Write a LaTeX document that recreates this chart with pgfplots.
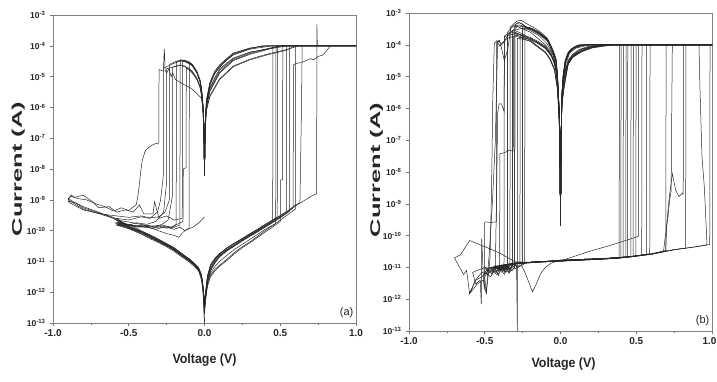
\documentclass[border=0pt]{standalone}
\usepackage{fontspec}
\setmainfont{Liberation Sans}
\usepackage{graphicx}
\usepackage{pgfplots}
\pgfplotsset{compat=1.18}
\tikzset{ln/.style={line width=0.5pt, black!85}}
\pgfplotsset{every axis/.append style={
    scale only axis,
    xmin=-1, xmax=1, ymin=1e-13, ymax=1e-3,
    axis line style={draw=black!50, line width=0.8pt},
    tick style={draw=black!55, line width=0.6pt},
    tick align=outside, major tick length=3pt, minor tick length=2pt,
    xtick pos=bottom, ytick pos=left,
    xtick={-1,-0.5,0,0.5,1},
    minor xtick={-0.75,-0.25,0.25,0.75},
    ytick={1e-13,1e-12,1e-11,1e-10,1e-9,1e-8,1e-7,1e-6,1e-5,1e-4,1e-3},
    yticklabels={10\textsuperscript{-13},10\textsuperscript{-12},10\textsuperscript{-11},10\textsuperscript{-10},10\textsuperscript{-9},10\textsuperscript{-8},10\textsuperscript{-7},10\textsuperscript{-6},10\textsuperscript{-5},10\textsuperscript{-4},10\textsuperscript{-3}},
    yminorticks=false,
    yticklabel style={font=\fontsize{8.5}{8.5}\selectfont\bfseries, text=black!85, xshift=-1pt},
    xticklabel style={font=\fontsize{10}{10}\selectfont\bfseries, text=black!85},
  }}
\begin{document}
\begin{tikzpicture}
\useasboundingbox (0pt,0pt) rectangle (717pt,381pt);
% ---------------- panel (a) ----------------
\begin{semilogyaxis}[at={(53pt,58pt)}, anchor=south west, width=303pt, height=308pt,
  xticklabels={-1.0,-0.5,0.0,0.5,1.0},
  ylabel={\scalebox{1.82}[1]{\fontsize{14}{14}\selectfont\bfseries Current (A)}},
  ylabel style={at={(axis description cs:-0.115,0.5)}, anchor=center, text=black!85},
  xlabel={\scalebox{0.92}[1]{\fontsize{13.5}{14}\selectfont\bfseries Voltage (V)}},
  xlabel style={at={(axis description cs:0.5,-0.12)}, anchor=center, text=black!85}]
\addplot[ln] coordinates {(0,3.2e-13) (0.01,1e-12) (0.02,2.5e-12) (0.04,5.6e-12) (0.07,1e-11) (0.1,1.6e-11) (0.15,2.5e-11) (0.2,3.5e-11) (0.25,5e-11) (0.3,7.1e-11) (0.35,1e-10) (0.4,1.4e-10) (0.45,2e-10) (0.452,1e-4) (1.0,1e-4) (0.4,1e-4) (0.3,8.3e-5) (0.19,5.6e-5) (0.14,3.5e-5) (0.1,2.3e-5) (0.068,1.45e-5) (0.035,6e-6) (0.013,1.7e-6) (0.005,4e-7) (0,6e-9) (-0.005,3.2e-7) (-0.01,1.1e-6) (-0.02,4e-6) (-0.03,7.6e-6) (-0.05,1.4e-5) (-0.08,2.4e-5) (-0.1,2.8e-5) (-0.13,3.3e-5) (-0.16,3.5e-5) (-0.163,1.5e-10) (-0.2,1.3e-10) (-0.25,1.2e-10) (-0.3,1.4e-10) (-0.35,1.2e-10) (-0.4,1.5e-10) (-0.45,1.4e-10) (-0.5,1.6e-10) (-0.58,1.8e-10) (-0.5,1.3e-10) (-0.45,1.05e-10) (-0.4,8e-11) (-0.35,6e-11) (-0.3,4.5e-11) (-0.25,3.4e-11) (-0.2,2.4e-11) (-0.15,1.6e-11) (-0.1,1.05e-11) (-0.07,8e-12) (-0.04,5.6e-12) (-0.02,3.2e-12) (-0.01,1.3e-12) (0,3.2e-13)};
\addplot[ln] coordinates {(0,5e-13) (0.01,1.4e-12) (0.02,3.5e-12) (0.04,8e-12) (0.07,1.3e-11) (0.1,1.8e-11) (0.15,2.8e-11) (0.2,4e-11) (0.25,5.6e-11) (0.3,8e-11) (0.35,1.1e-10) (0.4,1.6e-10) (0.45,2.2e-10) (0.48,2.8e-10) (0.482,1e-4) (1.0,1e-4) (0.5,1e-4) (0.4,7.5e-5) (0.3,5.6e-5) (0.19,3.5e-5) (0.1,1.4e-5) (0.035,3.5e-6) (0.013,1.1e-6) (0.005,3e-7) (0,6e-9) (-0.005,2e-7) (-0.01,7e-7) (-0.02,2.5e-6) (-0.03,4.5e-6) (-0.05,8e-6) (-0.08,1.3e-5) (-0.1,1.6e-5) (-0.12,1.9e-5) (-0.122,1.1e-8) (-0.14,1e-8) (-0.142,2e-10) (-0.18,1.6e-10) (-0.22,1.3e-10) (-0.28,1.5e-10) (-0.35,1.4e-10) (-0.42,1.6e-10) (-0.5,1.9e-10) (-0.58,2.2e-10) (-0.5,1.5e-10) (-0.45,1.2e-10) (-0.4,9e-11) (-0.35,7e-11) (-0.3,5.2e-11) (-0.25,3.8e-11) (-0.2,2.8e-11) (-0.15,1.8e-11) (-0.1,1.2e-11) (-0.07,9e-12) (-0.04,6.3e-12) (-0.02,3.5e-12) (-0.01,1.6e-12) (0,5e-13)};
\addplot[ln] coordinates {(0,2e-13) (0.01,7e-13) (0.02,1.6e-12) (0.04,3.2e-12) (0.07,5e-12) (0.1,7e-12) (0.15,1.1e-11) (0.2,1.8e-11) (0.25,2.8e-11) (0.3,4e-11) (0.35,6e-11) (0.4,9e-11) (0.45,1.3e-10) (0.5,2e-10) (0.502,4.4e-9) (0.515,4.4e-9) (0.517,1e-4) (1.0,1e-4) (0.6,1e-4) (0.54,7.2e-5) (0.41,5e-5) (0.3,3.5e-5) (0.19,2.1e-5) (0.1,8e-6) (0.035,2.2e-6) (0.013,8e-7) (0.005,2e-7) (0,6e-9) (-0.005,3.5e-7) (-0.01,1.2e-6) (-0.02,4.3e-6) (-0.03,8e-6) (-0.05,1.5e-5) (-0.08,2.5e-5) (-0.1,3e-5) (-0.13,3.4e-5) (-0.16,3.4e-5) (-0.185,3e-5) (-0.187,1.6e-10) (-0.22,1.2e-10) (-0.26,1.4e-10) (-0.32,1.1e-10) (-0.38,1.3e-10) (-0.45,1.5e-10) (-0.52,1.4e-10) (-0.58,1.6e-10) (-0.5,1.2e-10) (-0.45,9.5e-11) (-0.4,7e-11) (-0.35,5.2e-11) (-0.3,4e-11) (-0.25,3e-11) (-0.2,2.1e-11) (-0.15,1.4e-11) (-0.1,9.5e-12) (-0.07,7e-12) (-0.04,5e-12) (-0.02,2.5e-12) (-0.01,1e-12) (0,1e-13)};
\addplot[ln] coordinates {(0,4e-13) (0.01,1.1e-12) (0.02,2.8e-12) (0.04,6e-12) (0.07,1.1e-11) (0.1,1.5e-11) (0.15,2.3e-11) (0.2,3.3e-11) (0.25,4.8e-11) (0.3,6.8e-11) (0.35,9.5e-11) (0.4,1.3e-10) (0.45,1.9e-10) (0.5,2.7e-10) (0.56,4.2e-10) (0.562,1e-4) (1.0,1e-4) (0.38,1e-4) (0.3,8e-5) (0.19,5.3e-5) (0.14,3.3e-5) (0.1,2.1e-5) (0.068,1.3e-5) (0.035,5.5e-6) (0.013,1.5e-6) (0.005,3.5e-7) (0,6e-9) (-0.005,3e-7) (-0.01,1e-6) (-0.02,3.7e-6) (-0.03,7e-6) (-0.05,1.3e-5) (-0.08,2.2e-5) (-0.1,2.6e-5) (-0.125,3e-5) (-0.145,3.1e-5) (-0.147,2.5e-10) (-0.2,2.2e-10) (-0.25,3e-10) (-0.3,2.5e-10) (-0.33,8.7e-10) (-0.34,3.5e-10) (-0.4,3.5e-10) (-0.43,6.8e-10) (-0.47,4e-10) (-0.52,4.7e-10) (-0.58,4e-10) (-0.63,6e-10) (-0.7,5.5e-10) (-0.74,8.7e-10) (-0.8,1.4e-9) (-0.86,1.2e-9) (-0.88,1.45e-9) (-0.9,1e-9) (-0.85,7e-10) (-0.8,5e-10) (-0.7,3.6e-10) (-0.6,2.5e-10) (-0.5,1.3e-10) (-0.45,1.05e-10) (-0.4,8e-11) (-0.35,6e-11) (-0.3,4.6e-11) (-0.25,3.5e-11) (-0.2,2.5e-11) (-0.15,1.7e-11) (-0.1,1.1e-11) (-0.07,8.5e-12) (-0.04,6e-12) (-0.02,3.4e-12) (-0.01,1.4e-12) (0,4e-13)};
\addplot[ln] coordinates {(0,5e-13) (0.01,1.3e-12) (0.02,3.2e-12) (0.04,7.5e-12) (0.07,1.2e-11) (0.1,1.7e-11) (0.15,2.7e-11) (0.2,3.8e-11) (0.25,5.3e-11) (0.3,7.5e-11) (0.35,1.05e-10) (0.4,1.5e-10) (0.45,2.1e-10) (0.5,3e-10) (0.55,4.3e-10) (0.585,5.5e-10) (0.587,2.4e-5) (0.6,2.6e-5) (0.65,3e-5) (0.7,3.8e-5) (0.72,3.5e-5) (0.75,4.5e-5) (0.78,5e-5) (0.8,6.3e-5) (0.83,1e-4) (1.0,1e-4) (0.5,1e-4) (0.4,7.8e-5) (0.3,6e-5) (0.19,3.8e-5) (0.1,1.6e-5) (0.035,4e-6) (0.013,1.2e-6) (0.005,3.2e-7) (0,6e-9) (-0.005,2.2e-7) (-0.01,7.5e-7) (-0.02,2.7e-6) (-0.03,5e-6) (-0.05,9e-6) (-0.08,1.5e-5) (-0.1,1.8e-5) (-0.13,2.2e-5) (-0.16,2.4e-5) (-0.19,2.2e-5) (-0.21,2e-5) (-0.212,1.3e-9) (-0.24,2.2e-10) (-0.28,1.6e-10) (-0.33,1.3e-10) (-0.38,1.5e-10) (-0.44,1.3e-10) (-0.5,1.5e-10) (-0.58,1.5e-10) (-0.5,1.15e-10) (-0.45,9e-11) (-0.4,7.2e-11) (-0.35,5.5e-11) (-0.3,4.2e-11) (-0.25,3.2e-11) (-0.2,2.3e-11) (-0.15,1.5e-11) (-0.1,1e-11) (-0.07,7.5e-12) (-0.04,5.2e-12) (-0.02,3e-12) (-0.01,1.2e-12) (0,2.5e-13)};
\addplot[ln] coordinates {(0,2.5e-13) (0.01,8e-13) (0.02,1.8e-12) (0.04,3.6e-12) (0.07,5.6e-12) (0.1,7.5e-12) (0.15,1.2e-11) (0.2,2e-11) (0.25,3e-11) (0.3,4.3e-11) (0.35,6.5e-11) (0.4,1e-10) (0.45,1.45e-10) (0.5,2.2e-10) (0.55,3.3e-10) (0.6,5e-10) (0.602,1e-4) (1.0,1e-4) (0.62,1e-4) (0.54,7.5e-5) (0.41,5.3e-5) (0.3,3.7e-5) (0.19,2.2e-5) (0.1,8.5e-6) (0.035,2.4e-6) (0.013,8.5e-7) (0.005,2.2e-7) (0,6e-9) (-0.005,3e-7) (-0.01,1.05e-6) (-0.02,3.8e-6) (-0.03,7.2e-6) (-0.05,1.35e-5) (-0.08,2.3e-5) (-0.1,2.7e-5) (-0.13,3.2e-5) (-0.16,3.4e-5) (-0.19,3.1e-5) (-0.23,2.5e-5) (-0.232,1e-9) (-0.26,4e-10) (-0.3,2.8e-10) (-0.36,2.6e-10) (-0.42,3e-10) (-0.5,2.7e-10) (-0.58,3e-10) (-0.69,3.5e-10) (-0.8,4.7e-10) (-0.89,8e-10) (-0.9,9e-10) (-0.85,8e-10) (-0.8,6e-10) (-0.7,4e-10) (-0.6,2.5e-10) (-0.5,1.25e-10) (-0.45,1e-10) (-0.4,7.8e-11) (-0.35,5.8e-11) (-0.3,4.4e-11) (-0.25,3.3e-11) (-0.2,2.3e-11) (-0.15,1.55e-11) (-0.1,1.05e-11) (-0.07,8e-12) (-0.04,5.5e-12) (-0.02,3.2e-12) (-0.01,1.3e-12) (0,3e-13)};
\addplot[ln] coordinates {(0,3.5e-13) (0.01,1e-12) (0.02,2.4e-12) (0.04,5.3e-12) (0.07,9.5e-12) (0.1,1.5e-11) (0.15,2.4e-11) (0.2,3.4e-11) (0.25,4.9e-11) (0.3,7e-11) (0.35,9.8e-11) (0.4,1.4e-10) (0.45,2e-10) (0.5,2.8e-10) (0.55,4e-10) (0.6,6.3e-10) (0.65,8.9e-10) (0.7,1.26e-9) (0.74,1.6e-9) (0.742,5e-4) (0.745,1e-4) (1.0,1e-4) (0.42,1e-4) (0.3,8.5e-5) (0.19,5.8e-5) (0.14,3.6e-5) (0.1,2.4e-5) (0.068,1.5e-5) (0.035,6.3e-6) (0.013,1.8e-6) (0.005,4.2e-7) (0,6e-9) (-0.005,3e-7) (-0.01,1.2e-6) (-0.02,2e-6) (-0.05,2.8e-6) (-0.075,3.7e-6) (-0.1,4.5e-6) (-0.15,6e-6) (-0.19,8e-6) (-0.21,1.3e-5) (-0.22,1e-5) (-0.235,1.8e-5) (-0.25,1.3e-5) (-0.26,1.6e-5) (-0.265,8e-5) (-0.272,1.5e-5) (-0.3,1.7e-5) (-0.302,7e-8) (-0.33,6.5e-8) (-0.36,5.4e-8) (-0.39,4e-8) (-0.41,2e-8) (-0.42,9e-9) (-0.43,3.2e-9) (-0.44,1.3e-9) (-0.45,7e-10) (-0.5,4.5e-10) (-0.55,5.5e-10) (-0.6,4.3e-10) (-0.65,5.8e-10) (-0.72,7.5e-10) (-0.78,1e-9) (-0.84,1.1e-9) (-0.88,1.3e-9) (-0.9,1.1e-9) (-0.8,5.5e-10) (-0.7,3.8e-10) (-0.6,2.7e-10) (-0.5,1.35e-10) (-0.4,8.5e-11) (-0.3,4.8e-11) (-0.2,2.6e-11) (-0.1,1.15e-11) (-0.04,6e-12) (-0.02,3.5e-12) (-0.01,1.5e-12) (0,1e-13)};
\addplot[ln] coordinates {(0,4.5e-13) (0.01,1.3e-12) (0.02,3.2e-12) (0.04,7e-12) (0.07,1.2e-11) (0.1,1.8e-11) (0.15,2.8e-11) (0.2,4e-11) (0.25,5.5e-11) (0.3,7.8e-11) (0.35,1.1e-10) (0.4,1.55e-10) (0.45,2.2e-10) (0.5,3.1e-10) (0.55,4.4e-10) (0.6,6.8e-10) (0.63,8e-10) (0.64,1e-6) (0.645,1e-4) (1.0,1e-4) (0.5,1e-4) (0.4,7.2e-5) (0.3,5.3e-5) (0.19,3.3e-5) (0.1,1.3e-5) (0.035,3.3e-6) (0.013,1e-6) (0.005,2.8e-7) (0,6e-9) (-0.005,3.3e-7) (-0.01,1.1e-6) (-0.02,4e-6) (-0.03,7.5e-6) (-0.05,1.4e-5) (-0.08,2.35e-5) (-0.1,2.8e-5) (-0.102,1.2e-10) (-0.13,1e-10) (-0.16,1.3e-10) (-0.2,1.1e-10) (-0.25,1.3e-10) (-0.3,1.2e-10) (-0.35,1.4e-10) (-0.42,1.3e-10) (-0.5,1.5e-10) (-0.58,1.7e-10) (-0.5,1.2e-10) (-0.4,8e-11) (-0.3,4.7e-11) (-0.2,2.5e-11) (-0.15,1.7e-11) (-0.1,1.1e-11) (-0.07,8.2e-12) (-0.04,5.8e-12) (-0.02,3.3e-12) (-0.01,1.4e-12) (0,4.5e-13)};
\addplot[ln] coordinates {(0,3e-13) (0.01,9e-13) (0.02,2.2e-12) (0.04,5e-12) (0.07,9e-12) (0.1,1.4e-11) (0.15,2.2e-11) (0.2,3.2e-11) (0.25,4.6e-11) (0.3,6.5e-11) (0.35,9e-11) (0.4,1.3e-10) (0.45,1.8e-10) (0.5,2.6e-10) (0.54,3.6e-10) (0.542,1e-4) (1.0,1e-4) (0.45,1e-4) (0.3,7.8e-5) (0.19,5e-5) (0.14,3.2e-5) (0.1,2e-5) (0.068,1.25e-5) (0.035,5.2e-6) (0.013,1.4e-6) (0.005,3.4e-7) (0,6e-9) (-0.005,2.1e-7) (-0.01,7.2e-7) (-0.02,2.6e-6) (-0.03,4.8e-6) (-0.05,8.5e-6) (-0.08,1.4e-5) (-0.1,1.7e-5) (-0.13,2.1e-5) (-0.16,2.3e-5) (-0.2,2.1e-5) (-0.25,1.8e-5) (-0.252,3e-9) (-0.27,4e-10) (-0.32,2e-10) (-0.38,1.6e-10) (-0.45,1.8e-10) (-0.5,1.5e-10) (-0.58,1.9e-10) (-0.45,1.4e-10) (-0.35,1.2e-10) (-0.25,8e-11) (-0.2,7e-11) (-0.17,6e-11) (-0.15,8e-11) (-0.13,1e-10) (-0.075,1.3e-10) (-0.031,1.9e-10) (0,2.8e-10)};
\addplot[ln] coordinates {(0,3.5e-13) (0.01,9e-13) (0.02,2e-12) (0.04,4.2e-12) (0.07,7e-12) (0.1,1e-11) (0.15,1.6e-11) (0.2,2.5e-11) (0.25,3.6e-11) (0.3,5.2e-11) (0.35,7.5e-11) (0.4,1.1e-10) (0.47,1.7e-10) (0.472,1e-4) (1.0,1e-4) (0.55,1e-4) (0.45,8.3e-5) (0.3,6.3e-5) (0.19,4e-5) (0.1,1.8e-5) (0.035,4.5e-6) (0.013,1.3e-6) (0.005,3.5e-7) (0,6e-9) (-0.005,3.1e-7) (-0.01,1.05e-6) (-0.02,3.9e-6) (-0.03,7.3e-6) (-0.05,1.35e-5) (-0.08,2.3e-5) (-0.1,2.7e-5) (-0.13,3.1e-5) (-0.16,3.2e-5) (-0.2,2.7e-5) (-0.24,2.2e-5) (-0.27,1.9e-5) (-0.272,6e-9) (-0.29,1e-9) (-0.31,4e-10) (-0.36,2.5e-10) (-0.42,2.8e-10) (-0.5,2.2e-10) (-0.58,2.5e-10) (-0.5,1.4e-10) (-0.4,8.8e-11) (-0.3,5e-11) (-0.2,2.7e-11) (-0.1,1.2e-11) (-0.04,6.5e-12) (-0.02,3.8e-12) (-0.01,1.7e-12) (0,5e-13)};
\node[anchor=south east, inner sep=1pt, font=\fontsize{11}{11}\selectfont, text=black!85] at (rel axis cs:0.995,0.012) {(a)};
\end{semilogyaxis}
% ---------------- panel (b) ----------------
\begin{semilogyaxis}[at={(409pt,50pt)}, anchor=south west, width=303pt, height=318pt,
  xticklabels={-1.0,-0.5,0.0,0.5,\hspace*{-5pt}1.0},
  ylabel={\scalebox{1.82}[1]{\fontsize{14}{14}\selectfont\bfseries Current (A)}},
  ylabel style={at={(axis description cs:-0.107,0.506)}, anchor=center, text=black!85},
  xlabel={\scalebox{0.92}[1]{\fontsize{13.5}{14}\selectfont\bfseries Voltage (V)}},
  xlabel style={at={(axis description cs:0.51,-0.104)}, anchor=center, text=black!85}]
\addplot[ln] coordinates {(0,1.6e-11) (0.15,1.75e-11) (0.3,1.9e-11) (0.387,1.95e-11) (0.389,1e-4) (1.0,1e-4) (0.15,1e-4) (0.12,9.3e-5) (0.08,7.6e-5) (0.06,6e-5) (0.035,3.2e-5) (0.018,1e-5) (0.01,3e-6) (0.005,3e-7) (0,2.1e-10) (-0.005,2e-7) (-0.009,9e-7) (-0.02,1e-5) (-0.03,3.2e-5) (-0.05,6e-5) (-0.086,1.4e-4) (-0.14,2.3e-4) (-0.196,3.2e-4) (-0.235,3.5e-4) (-0.237,1.3e-11) (-0.27,1.1e-11) (-0.3,1.2e-11) (-0.33,9e-12) (-0.36,1.1e-11) (-0.38,8e-12) (-0.4,1e-11) (-0.35,1.2e-11) (-0.3,1.35e-11) (-0.2,1.45e-11) (-0.1,1.55e-11) (0,1.65e-11)};
\addplot[ln] coordinates {(0,1.65e-11) (0.15,1.8e-11) (0.3,1.85e-11) (0.413,2e-11) (0.415,1e-4) (1.0,1e-4) (0.3,1e-4) (0.21,8.7e-5) (0.15,7e-5) (0.1,5.2e-5) (0.06,3.5e-5) (0.035,1.6e-5) (0.02,7e-6) (0.01,2e-6) (0.005,2.5e-7) (0,2.1e-10) (-0.005,1.5e-7) (-0.01,8e-7) (-0.02,6e-6) (-0.03,1.6e-5) (-0.04,2.6e-5) (-0.06,4.5e-5) (-0.1,8e-5) (-0.15,1.15e-4) (-0.2,1.5e-4) (-0.25,1.7e-4) (-0.266,1.75e-4) (-0.268,1.1e-11) (-0.3,9e-12) (-0.32,1.2e-11) (-0.34,7e-12) (-0.36,1e-11) (-0.4,8.5e-12) (-0.44,1.1e-11) (-0.4,1.15e-11) (-0.3,1.3e-11) (-0.2,1.4e-11) (-0.1,1.5e-11) (0,1.6e-11)};
\addplot[ln] coordinates {(0,1.55e-11) (0.15,1.7e-11) (0.3,1.85e-11) (0.431,2.05e-11) (0.433,1e-4) (1.0,1e-4) (0.35,1e-4) (0.3,9.5e-5) (0.21,8.3e-5) (0.14,6.3e-5) (0.08,4.2e-5) (0.05,2.5e-5) (0.024,5e-6) (0.01,1.5e-6) (0.005,2e-7) (0,2.1e-10) (-0.005,1e-7) (-0.01,5e-7) (-0.02,4e-6) (-0.04,1.6e-5) (-0.07,3.5e-5) (-0.1,5.6e-5) (-0.15,8.5e-5) (-0.2,1.3e-4) (-0.25,1.5e-4) (-0.284,1.6e-4) (-0.285,1e-13) (-0.29,1.2e-11) (-0.32,1.4e-11) (-0.35,9e-12) (-0.38,1.1e-11) (-0.42,7.5e-12) (-0.38,1.2e-11) (-0.3,1.4e-11) (-0.2,1.45e-11) (-0.1,1.55e-11) (0,1.7e-11)};
\addplot[ln] coordinates {(0,1.7e-11) (0.15,1.8e-11) (0.3,1.9e-11) (0.464,2.2e-11) (0.466,1e-4) (1.0,1e-4) (0.14,1e-4) (0.1,8.7e-5) (0.07,7e-5) (0.05,5.5e-5) (0.03,3e-5) (0.018,1.2e-5) (0.01,3.5e-6) (0.005,3.5e-7) (0,2.1e-10) (-0.005,2.2e-7) (-0.009,1e-6) (-0.02,1.1e-5) (-0.03,3.5e-5) (-0.05,6.5e-5) (-0.086,1.5e-4) (-0.14,2.5e-4) (-0.196,3.4e-4) (-0.24,3.8e-4) (-0.27,4.2e-4) (-0.301,4e-4) (-0.303,1e-11) (-0.32,8e-12) (-0.35,1.1e-11) (-0.37,6e-12) (-0.4,9e-12) (-0.45,7e-12) (-0.5,9e-12) (-0.45,1e-11) (-0.38,1.1e-11) (-0.3,1.35e-11) (-0.2,1.45e-11) (-0.1,1.55e-11) (0,1.6e-11)};
\addplot[ln] coordinates {(0,1.6e-11) (0.15,1.75e-11) (0.3,1.9e-11) (0.497,2.25e-11) (0.499,1e-4) (1.0,1e-4) (0.27,1e-4) (0.2,8.9e-5) (0.14,7.3e-5) (0.1,5.6e-5) (0.06,3.8e-5) (0.035,1.8e-5) (0.02,8e-6) (0.01,2.2e-6) (0.005,2.7e-7) (0,2.1e-10) (-0.005,1.6e-7) (-0.01,8.5e-7) (-0.02,7e-6) (-0.03,1.8e-5) (-0.04,2.9e-5) (-0.06,5e-5) (-0.1,9e-5) (-0.15,1.3e-4) (-0.2,1.7e-4) (-0.25,2e-4) (-0.29,2.3e-4) (-0.316,2.2e-4) (-0.318,1.2e-11) (-0.34,6.5e-12) (-0.36,9e-12) (-0.4,1.1e-11) (-0.45,8e-12) (-0.4,1.05e-11) (-0.3,1.3e-11) (-0.2,1.4e-11) (-0.1,1.5e-11) (0,1.65e-11)};
\addplot[ln] coordinates {(0,1.65e-11) (0.15,1.8e-11) (0.3,1.95e-11) (0.45,2.15e-11) (0.536,2.4e-11) (0.538,1e-4) (1.0,1e-4) (0.32,1e-4) (0.25,9e-5) (0.18,7.6e-5) (0.12,5.8e-5) (0.07,3.8e-5) (0.045,2.2e-5) (0.024,6e-6) (0.01,1.7e-6) (0.005,2.2e-7) (0,2.1e-10) (-0.005,2.4e-7) (-0.009,1.1e-6) (-0.02,1.2e-5) (-0.03,3.8e-5) (-0.05,7e-5) (-0.086,1.6e-4) (-0.14,2.7e-4) (-0.19,3.8e-4) (-0.23,4.8e-4) (-0.26,5.9e-4) (-0.29,5.5e-4) (-0.31,4.5e-4) (-0.332,3.6e-4) (-0.334,1.3e-11) (-0.36,7e-12) (-0.38,1.1e-11) (-0.41,6e-12) (-0.44,9e-12) (-0.4,1.1e-11) (-0.3,1.35e-11) (-0.2,1.45e-11) (-0.1,1.5e-11) (0,1.6e-11)};
\addplot[ln] coordinates {(0,1.6e-11) (0.15,1.75e-11) (0.3,1.9e-11) (0.45,2.1e-11) (0.567,2.6e-11) (0.569,1e-4) (1.0,1e-4) (0.17,1e-4) (0.13,9e-5) (0.09,7.8e-5) (0.06,5.8e-5) (0.035,3e-5) (0.018,9e-6) (0.01,2.8e-6) (0.005,2.8e-7) (0,2.1e-10) (-0.005,1.8e-7) (-0.01,9e-7) (-0.02,8e-6) (-0.03,2.2e-5) (-0.05,5e-5) (-0.09,1.1e-4) (-0.14,1.9e-4) (-0.2,2.8e-4) (-0.25,4.5e-4) (-0.28,5e-4) (-0.31,4e-4) (-0.33,3.2e-4) (-0.349,2.5e-4) (-0.351,1.1e-11) (-0.37,8e-12) (-0.39,1.2e-11) (-0.42,6e-12) (-0.46,8e-12) (-0.42,1.05e-11) (-0.3,1.3e-11) (-0.2,1.4e-11) (-0.1,1.5e-11) (0,1.6e-11)};
\addplot[ln] coordinates {(0,1.6e-11) (0.15,1.7e-11) (0.3,1.85e-11) (0.45,2.15e-11) (0.589,2.7e-11) (0.591,1e-4) (1.0,1e-4) (0.3,1e-4) (0.21,8.5e-5) (0.15,6.8e-5) (0.1,5e-5) (0.06,3.3e-5) (0.035,1.5e-5) (0.02,6.5e-6) (0.01,1.9e-6) (0.005,2.3e-7) (0,2.1e-10) (-0.005,1.4e-7) (-0.01,7.5e-7) (-0.02,5.5e-6) (-0.03,1.5e-5) (-0.04,2.5e-5) (-0.06,4.3e-5) (-0.1,7.6e-5) (-0.15,1.1e-4) (-0.2,1.45e-4) (-0.25,1.7e-4) (-0.29,2e-4) (-0.31,1.8e-4) (-0.312,4.5e-8) (-0.34,4.9e-8) (-0.37,4e-8) (-0.40,3.8e-8) (-0.402,1e-11) (-0.43,7e-12) (-0.46,9e-12) (-0.5,6e-12) (-0.45,1e-11) (-0.35,1.2e-11) (-0.3,1.35e-11) (-0.2,1.45e-11) (-0.1,1.55e-11) (0,1.65e-11)};
\addplot[ln] coordinates {(0,1.6e-11) (0.15,1.75e-11) (0.3,1.9e-11) (0.45,2.15e-11) (0.6,2.7e-11) (0.695,3.4e-11) (0.7,2e-10) (0.716,1.3e-9) (0.738,8.9e-9) (0.76,2.7e-9) (0.782,1.7e-9) (0.805,2.2e-9) (0.81,2e-9) (0.812,1e-4) (1.0,1e-4) (0.15,1e-4) (0.12,9.5e-5) (0.08,7.8e-5) (0.06,6.2e-5) (0.035,3.4e-5) (0.018,1.1e-5) (0.01,3.2e-6) (0.005,3.2e-7) (0,2.1e-10) (-0.005,1.7e-7) (-0.01,8.5e-7) (-0.02,7.5e-6) (-0.03,2e-5) (-0.05,4.8e-5) (-0.1,1e-4) (-0.15,1.6e-4) (-0.2,2.5e-4) (-0.25,3.2e-4) (-0.29,3.8e-4) (-0.327,3.6e-4) (-0.349,6.8e-5) (-0.371,3.2e-5) (-0.39,8e-5) (-0.404,1.4e-4) (-0.415,1.2e-4) (-0.43,1e-7) (-0.45,1e-9) (-0.47,3e-11) (-0.49,1.5e-12) (-0.51,4e-12) (-0.55,3e-12) (-0.6,1.5e-12) (-0.56,4e-12) (-0.52,7e-12) (-0.48,6e-12) (-0.44,1e-11) (-0.38,9e-12) (-0.3,1.3e-11) (-0.2,1.45e-11) (-0.1,1.55e-11) (0,1.6e-11)};
\addplot[ln] coordinates {(0,1.7e-11) (0.15,1.8e-11) (0.3,1.9e-11) (0.45,2.2e-11) (0.6,2.6e-11) (0.68,3.2e-11) (0.69,8e-11) (0.71,4e-10) (0.72,1.3e-9) (0.73,2.5e-9) (0.738,1e-4) (1.0,1e-4) (0.35,1e-4) (0.3,9.2e-5) (0.21,8e-5) (0.14,6e-5) (0.08,4e-5) (0.05,2.4e-5) (0.024,4.5e-6) (0.01,1.4e-6) (0.005,1.9e-7) (0,2.1e-10) (-0.005,1.2e-7) (-0.01,6e-7) (-0.02,4.5e-6) (-0.04,1.8e-5) (-0.07,3.8e-5) (-0.1,6e-5) (-0.15,9e-5) (-0.2,1.4e-4) (-0.25,1.9e-4) (-0.3,2.5e-4) (-0.35,2.2e-4) (-0.37,1.9e-4) (-0.372,8e-7) (-0.39,1.4e-6) (-0.405,1.4e-6) (-0.415,7e-7) (-0.42,8e-9) (-0.43,1e-11) (-0.45,6e-12) (-0.48,9e-12) (-0.52,5e-12) (-0.56,4e-12) (-0.6,1.5e-12) (-0.62,8e-12) (-0.64,6e-12) (-0.7,2e-11) (-0.66,2.5e-11) (-0.6,7e-11) (-0.5,4.5e-11) (-0.4,2.8e-11) (-0.3,1.5e-11) (-0.2,1.45e-11) (-0.1,1.5e-11) (0,1.6e-11)};
\addplot[ln] coordinates {(0,1.6e-11) (0.1,2.3e-11) (0.2,3.3e-11) (0.3,4.5e-11) (0.4,6.3e-11) (0.5,9e-11) (0.514,9.5e-11) (0.516,1e-4) (1.0,1e-4) (0.2,1e-4) (0.15,9e-5) (0.1,7.8e-5) (0.06,5.5e-5) (0.035,2.5e-5) (0.02,8.5e-6) (0.01,2.5e-6) (0.005,2.6e-7) (0,2.1e-10) (-0.005,1.9e-7) (-0.009,8.5e-7) (-0.02,9e-6) (-0.03,2.8e-5) (-0.05,5.5e-5) (-0.086,1.3e-4) (-0.14,2.1e-4) (-0.196,3e-4) (-0.25,3.2e-4) (-0.251,1.5e-11) (-0.26,1.2e-11) (-0.24,8e-12) (-0.21,3.5e-12) (-0.185,1.7e-12) (-0.16,3e-12) (-0.13,6.5e-12) (-0.1,1e-11) (-0.064,1.35e-11) (0,1.7e-11)};
\addplot[ln] coordinates {(0,1.65e-11) (0.15,1.75e-11) (0.3,1.85e-11) (0.45,2.1e-11) (0.6,2.6e-11) (0.7,3.3e-11) (0.8,3.9e-11) (0.826,4e-11) (0.828,1e-4) (1.0,1e-4) (0.28,1e-4) (0.2,8.6e-5) (0.14,7.2e-5) (0.1,5.5e-5) (0.06,3.6e-5) (0.035,1.7e-5) (0.02,7.5e-6) (0.01,2.1e-6) (0.005,2.6e-7) (0,2.1e-10) (-0.005,2.1e-7) (-0.009,9.5e-7) (-0.02,1.05e-5) (-0.03,3.3e-5) (-0.05,6.2e-5) (-0.086,1.45e-4) (-0.14,2.4e-4) (-0.196,3.3e-4) (-0.251,3.7e-4) (-0.253,1.2e-11) (-0.28,1e-11) (-0.31,1.25e-11) (-0.34,8e-12) (-0.37,1.1e-11) (-0.33,1.25e-11) (-0.25,1.35e-11) (-0.15,1.5e-11) (0,1.6e-11)};
\addplot[ln] coordinates {(0,1.6e-11) (0.15,1.7e-11) (0.3,1.85e-11) (0.45,2.1e-11) (0.6,2.6e-11) (0.75,3.6e-11) (0.9,4.5e-11) (0.967,5.2e-11) (0.95,3e-9) (0.934,3e-8) (0.92,5e-6) (0.914,1e-4) (1.0,1e-4) (0.13,1e-4) (0.1,9e-5) (0.07,7.4e-5) (0.05,5.8e-5) (0.03,3.2e-5) (0.018,1.1e-5) (0.01,3.3e-6) (0.005,3.3e-7) (0,2.1e-10) (-0.005,1.5e-7) (-0.01,8e-7) (-0.02,6.5e-6) (-0.03,1.7e-5) (-0.04,2.7e-5) (-0.06,4.7e-5) (-0.1,8.5e-5) (-0.15,1.2e-4) (-0.2,1.6e-4) (-0.25,1.9e-4) (-0.3,2.2e-4) (-0.34,2e-4) (-0.371,1.8e-4) (-0.373,1.2e-11) (-0.4,8e-12) (-0.43,1.1e-11) (-0.46,5e-12) (-0.5,7e-12) (-0.47,1e-11) (-0.4,1.1e-11) (-0.3,1.3e-11) (-0.15,1.5e-11) (0,1.6e-11)};
\addplot[ln] coordinates {(0,1.6e-11) (0.15,1.75e-11) (0.3,1.9e-11) (0.45,2.1e-11) (0.6,2.6e-11) (0.75,3.6e-11) (0.9,4.5e-11) (0.985,5.2e-11) (0.987,1e-4) (1.0,1e-4) (0.33,1e-4) (0.28,9.3e-5) (0.2,8e-5) (0.13,6e-5) (0.08,4.1e-5) (0.05,2.4e-5) (0.024,5.5e-6) (0.01,1.6e-6) (0.005,2.1e-7) (0,2.1e-10) (-0.005,1.1e-7) (-0.01,5.5e-7) (-0.02,4.2e-6) (-0.04,1.7e-5) (-0.07,3.6e-5) (-0.1,5.8e-5) (-0.15,8.8e-5) (-0.2,1.3e-4) (-0.25,1.6e-4) (-0.3,1.9e-4) (-0.35,1.6e-4) (-0.39,1.1e-4) (-0.41,1.35e-4) (-0.422,1.2e-4) (-0.424,2.7e-10) (-0.46,2.6e-10) (-0.5,2.7e-10) (-0.503,2e-12) (-0.51,6e-12) (-0.52,8e-11) (-0.523,7e-13) (-0.53,4e-12) (-0.56,3e-12) (-0.58,7e-12) (-0.55,8e-12) (-0.5,1e-11) (-0.45,9e-12) (-0.4,1.1e-11) (-0.3,1.3e-11) (-0.15,1.5e-11) (0,1.6e-11)};
\addplot[ln] coordinates {(0,1.7e-11) (0.15,1.8e-11) (0.3,1.9e-11) (0.398,1.95e-11) (0.4,1e-4) (1.0,1e-4) (0.12,1e-4) (0.09,8.5e-5) (0.065,6.8e-5) (0.045,5e-5) (0.03,2.8e-5) (0.018,1e-5) (0.01,3.1e-6) (0.005,3.1e-7) (0,2.1e-10) (-0.005,2.1e-7) (-0.009,9e-7) (-0.02,1.05e-5) (-0.03,3.3e-5) (-0.05,6.2e-5) (-0.086,1.45e-4) (-0.14,2.35e-4) (-0.196,3.3e-4) (-0.24,3.7e-4) (-0.28,3.9e-4) (-0.31,3e-4) (-0.35,1.9e-4) (-0.38,1.1e-4) (-0.4,9e-5) (-0.42,1.35e-4) (-0.437,1.1e-4) (-0.447,2e-6) (-0.455,3e-9) (-0.465,2e-11) (-0.475,7e-12) (-0.49,1.5e-12) (-0.5,5e-12) (-0.47,1e-11) (-0.42,9e-12) (-0.38,1.15e-11) (-0.3,1.3e-11) (-0.15,1.5e-11) (0,1.65e-11)};
\addplot[ln] coordinates {(0,1.6e-11) (0.15,1.75e-11) (0.3,1.9e-11) (0.442,2.1e-11) (0.444,1e-4) (1.0,1e-4) (0.25,1e-4) (0.18,8.8e-5) (0.12,7e-5) (0.08,5e-5) (0.05,3.2e-5) (0.03,1.5e-5) (0.02,7e-6) (0.01,2e-6) (0.005,2.4e-7) (0,2.1e-10) (-0.005,1.6e-7) (-0.01,8.2e-7) (-0.02,6.2e-6) (-0.03,1.65e-5) (-0.04,2.7e-5) (-0.06,4.6e-5) (-0.1,8.2e-5) (-0.15,1.2e-4) (-0.2,1.6e-4) (-0.25,2.2e-4) (-0.3,2.8e-4) (-0.33,2.5e-4) (-0.349,2.3e-4) (-0.351,1.3e-11) (-0.37,7e-12) (-0.39,1e-11) (-0.41,5.5e-12) (-0.43,9e-12) (-0.4,1.15e-11) (-0.3,1.35e-11) (-0.15,1.5e-11) (0,1.6e-11)};
\addplot[ln] coordinates {(0,1.65e-11) (0.15,1.8e-11) (0.3,1.9e-11) (0.45,2.15e-11) (0.479,2.2e-11) (0.481,1e-4) (1.0,1e-4) (0.16,1e-4) (0.12,9e-5) (0.08,7.3e-5) (0.055,5.6e-5) (0.035,3e-5) (0.018,1e-5) (0.01,3e-6) (0.005,3e-7) (0,2.1e-10) (-0.005,2e-7) (-0.009,9e-7) (-0.02,1e-5) (-0.03,3.1e-5) (-0.05,5.8e-5) (-0.086,1.35e-4) (-0.14,2.2e-4) (-0.196,3.1e-4) (-0.24,4e-4) (-0.27,5e-4) (-0.29,4.6e-4) (-0.301,3.8e-4) (-0.303,1e-11) (-0.33,7.5e-12) (-0.36,1.1e-11) (-0.39,7e-12) (-0.35,1.2e-11) (-0.25,1.4e-11) (-0.1,1.55e-11) (0,1.6e-11)};
\addplot[ln] coordinates {(0,1.6e-11) (0.15,1.75e-11) (0.3,1.9e-11) (0.45,2.15e-11) (0.6,2.6e-11) (0.695,3.3e-11) (0.697,1e-4) (1.0,1e-4) (0.14,1e-4) (0.11,9.2e-5) (0.075,7.5e-5) (0.055,5.9e-5) (0.033,3.1e-5) (0.018,1e-5) (0.01,3e-6) (0.005,3e-7) (0,2.1e-10) (-0.005,2e-7) (-0.009,9e-7) (-0.02,1e-5) (-0.03,3.2e-5) (-0.05,6e-5) (-0.086,1.4e-4) (-0.14,2.3e-4) (-0.196,3.2e-4) (-0.25,3.3e-4) (-0.29,3e-4) (-0.316,2.8e-4) (-0.318,1.1e-11) (-0.34,9e-12) (-0.37,1.2e-11) (-0.4,8e-12) (-0.35,1.25e-11) (-0.25,1.4e-11) (-0.1,1.55e-11) (0,1.6e-11)};
\node[anchor=south east, inner sep=1pt, font=\fontsize{11}{11}\selectfont, text=black!85] at (rel axis cs:0.995,0.012) {(b)};
\end{semilogyaxis}
\end{tikzpicture}
\end{document}
